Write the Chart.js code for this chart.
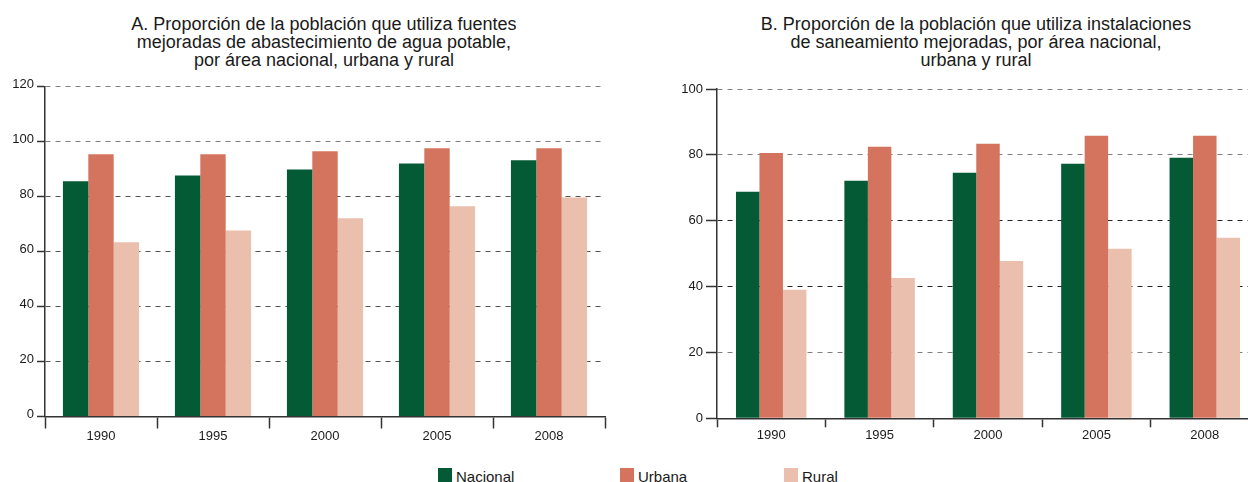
<!DOCTYPE html>
<html>
<head>
<meta charset="utf-8">
<script src="https://cdn.jsdelivr.net/npm/chart.js@4.4.1/dist/chart.umd.min.js"></script>
<style>
  html, body { margin: 0; padding: 0; background: #fff; overflow: hidden; }
  #wrap { position: relative; width: 1248px; height: 482px; overflow: hidden; background: #fff;
          font-family: 'Liberation Sans', Arial, sans-serif; color: #1a1a1a; }
  .title { position: absolute; top: 15px; width: 600px; text-align: center; font-size: 18px; line-height: 18px; }
  canvas { position: absolute; top: 0; }
  .leg { position: absolute; top: 468px; height: 14px; }
  .leg .sw { position: absolute; left: 0; top: 0; width: 14px; height: 14px; }
  .leg .tx { position: absolute; left: 18px; top: 1px; font-size: 15px; line-height: 15px; white-space: nowrap; color: #1a1a1a; }
</style>
</head>
<body>
<div id="wrap">
  <div class="title" id="tA" style="left:24px">A. Proporción de la población que utiliza fuentes<br>mejoradas de abastecimiento de agua potable,<br>por área nacional, urbana y rural</div>
  <div class="title" id="tB" style="left:676px">B. Proporción de la población que utiliza instalaciones<br>de saneamiento mejoradas, por área nacional,<br>urbana y rural</div>
  <canvas id="cA" width="620" height="445" style="left:0px"></canvas>
  <canvas id="cB" width="620" height="445" style="left:650px"></canvas>
  <div id="legend"></div>
</div>
<script>
// ---- data ----
const years = ['1990', '1995', '2000', '2005', '2008'];
const seriesNames = ['Nacional', 'Urbana', 'Rural'];

const aguaNacional = [85.6, 87.7, 89.9, 92.1, 93.2];
const aguaUrbana   = [95.4, 95.4, 96.5, 97.6, 97.6];
const aguaRural    = [63.4, 67.7, 72.1, 76.5, 79.7];

const saneNacional = [68.8, 72.1, 74.6, 77.3, 79.1];
const saneUrbana   = [80.6, 82.5, 83.4, 85.8, 85.8];
const saneRural    = [39.0, 42.6, 47.8, 51.5, 54.8];

const yTicksA = [0, 20, 40, 60, 80, 100, 120];
const yTicksB = [0, 20, 40, 60, 80, 100];

// ---- styles ----
const colors = ['#035a34', '#d4745e', '#eabfae'];
const FONT = "'Liberation Sans', Arial, sans-serif";

function makeChart(canvasId, series, ticks, cfg) {
  const datasets = series.map((vals, i) => ({
    label: seriesNames[i],
    data: vals,
    backgroundColor: colors[i],
    borderWidth: 0,
    categoryPercentage: cfg.catPct,
    barPercentage: 1.0
  }));
  return new Chart(document.getElementById(canvasId), {
    type: 'bar',
    data: { labels: years, datasets },
    options: {
      responsive: false,
      animation: false,
      devicePixelRatio: 1,
      layout: { padding: { top: cfg.top, left: 0, right: cfg.right, bottom: 0 } },
      plugins: { legend: { display: false }, tooltip: { enabled: false }, title: { display: false } },
      scales: {
        x: {
          afterFit: s => { s.height = cfg.xHeight; },
          grid: { display: true, drawOnChartArea: false, drawTicks: true, tickLength: cfg.xTick,
                  tickColor: '#333', tickWidth: 1.5, offset: true },
          border: { display: true, color: '#333', width: 1.5 },
          ticks: { color: '#1a1a1a', font: { family: FONT, size: 13 }, padding: 0, maxRotation: 0 }
        },
        y: {
          min: ticks[0], max: ticks[ticks.length - 1],
          afterFit: s => { s.width = cfg.yWidth; },
          afterBuildTicks: s => { s.ticks = ticks.map(v => ({ value: v })); },
          grid: { display: true, drawOnChartArea: true, drawTicks: true, tickLength: cfg.yTick,
                  color: c => cfg.gridColor(c.tick ? c.tick.value : 0), lineWidth: 1,
                  tickColor: '#333', tickWidth: 1.5, tickBorderDash: [] },
          border: { display: true, color: '#333', width: 1.5, dash: [5, 5] },
          ticks: { color: '#1a1a1a', font: { family: FONT, size: 13 }, padding: 3, labelOffset: cfg.labelOffset }
        }
      }
    }
  });
}

makeChart('cA', [aguaNacional, aguaUrbana, aguaRural], yTicksA, {
  catPct: 0.68, top: 86.7, right: 15, xHeight: 28.5, yWidth: 45, xTick: 12, yTick: 8, labelOffset: -2,
  gridColor: v => (v >= 100 ? '#808080' : '#555')
});

makeChart('cB', [saneNacional, saneUrbana, saneRural], yTicksB, {
  catPct: 0.65, top: 89, right: 11, xHeight: 26.7, yWidth: 67, xTick: 9, yTick: 11, labelOffset: 0,
  gridColor: v => ((v === 40 || v === 60) ? '#222' : '#808080')
});

// ---- legend (HTML, built from the series names) ----
const legendX = [438, 620, 784];
const legend = document.getElementById('legend');
seriesNames.forEach((name, i) => {
  const d = document.createElement('div');
  d.className = 'leg';
  d.style.left = legendX[i] + 'px';
  d.innerHTML = '<div class="sw" style="background:' + colors[i] + '"></div><div class="tx">' + name + '</div>';
  legend.appendChild(d);
});
</script>
</body>
</html>
